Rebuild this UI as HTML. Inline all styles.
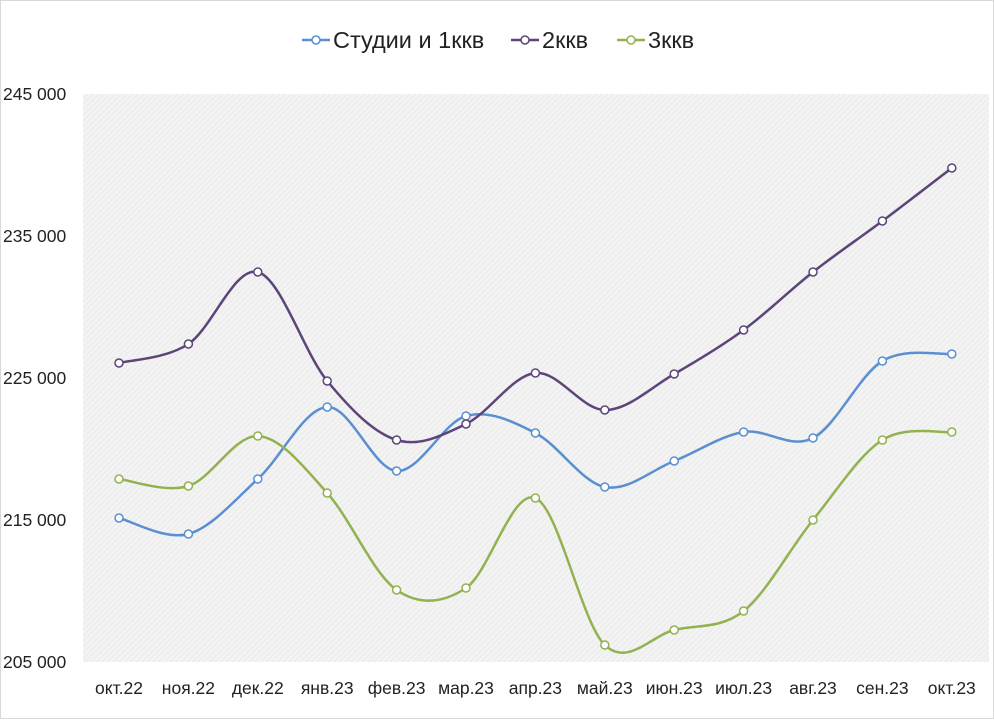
<!DOCTYPE html>
<html><head><meta charset="utf-8"><style>
body{margin:0;background:#fff;}
svg text{font-family:"Liberation Sans",sans-serif;fill:#222;}
</style></head><body>
<svg id="c" width="994" height="720" xmlns="http://www.w3.org/2000/svg">
<defs>
<pattern id="h" width="4" height="4" patternUnits="userSpaceOnUse" patternTransform="rotate(45)">
<rect width="4" height="4" fill="#f3f3f3"/><line x1="0" y1="0" x2="0" y2="4" stroke="#e2e2e2" stroke-width="1"/>
</pattern>
</defs>
<rect x="0.5" y="0.5" width="993" height="718" fill="none" stroke="#d9d9d9"/>
<rect x="83" y="94" width="906" height="568" fill="url(#h)"/>
<g font-size="17.5">
<text x="3" y="100">245 000</text>
<text x="3" y="242">235 000</text>
<text x="3" y="384">225 000</text>
<text x="3" y="526">215 000</text>
<text x="3" y="668">205 000</text>
</g>
<g id="xl" font-size="17.5" text-anchor="middle"></g>
<g font-size="23.5">
<line x1="302" y1="40" x2="330" y2="40" stroke="#5b8fd0" stroke-width="2.5"/><circle cx="316" cy="40" r="4" fill="#fff" stroke="#5b8fd0" stroke-width="1.5"/>
<text x="333" y="48">Студии и 1ккв</text>
<line x1="511" y1="40" x2="539" y2="40" stroke="#5d4479" stroke-width="2.5"/><circle cx="525" cy="40" r="4" fill="#fff" stroke="#5d4479" stroke-width="1.5"/>
<text x="542" y="48">2ккв</text>
<line x1="617" y1="40" x2="645" y2="40" stroke="#92b24f" stroke-width="2.5"/><circle cx="631" cy="40" r="4" fill="#fff" stroke="#92b24f" stroke-width="1.5"/>
<text x="648" y="48">3ккв</text>
</g>
<g id="s"></g>
</svg>
<script>
var xs=[],labels=["окт.22","ноя.22","дек.22","янв.23","фев.23","мар.23","апр.23","май.23","июн.23","июл.23","авг.23","сен.23","окт.23"];
var NS="http://www.w3.org/2000/svg";
for(var i=0;i<13;i++){xs.push(119+i*69.4);}
var xl=document.getElementById("xl");
labels.forEach(function(l,i){var t=document.createElementNS(NS,"text");t.setAttribute("x",xs[i]);t.setAttribute("y",694);t.textContent=l;xl.appendChild(t);});
var series=[
["#5b8fd0",[518,534,479,407,471,416,433,487,461,432,438,361,354]],
["#5d4479",[363,344,272,381,440,424,373,410,374,330,272,221,168]],
["#92b24f",[479,486,436,493,590,588,498,645,630,611,520,440,432]]];
var g=document.getElementById("s");
series.forEach(function(s){
var c=s[0],ys=s[1],n=ys.length,d="M"+xs[0]+","+ys[0],k=1/6;
for(var i=0;i<n-1;i++){
var p0=i>0?i-1:i,p3=i+2<n?i+2:i+1;
var c1x=xs[i]+(xs[i+1]-xs[p0])*k,c1y=ys[i]+(ys[i+1]-ys[p0])*k;
var c2x=xs[i+1]-(xs[p3]-xs[i])*k,c2y=ys[i+1]-(ys[p3]-ys[i])*k;
d+=" C"+c1x+","+c1y+" "+c2x+","+c2y+" "+xs[i+1]+","+ys[i+1];}
var p=document.createElementNS(NS,"path");p.setAttribute("d",d);p.setAttribute("fill","none");p.setAttribute("stroke",c);p.setAttribute("stroke-width","2.5");g.appendChild(p);
ys.forEach(function(y,i){var ci=document.createElementNS(NS,"circle");ci.setAttribute("cx",xs[i]);ci.setAttribute("cy",y);ci.setAttribute("r",4);ci.setAttribute("fill","#fff");ci.setAttribute("stroke",c);ci.setAttribute("stroke-width","1.5");g.appendChild(ci);});
});
</script>
</body></html>
